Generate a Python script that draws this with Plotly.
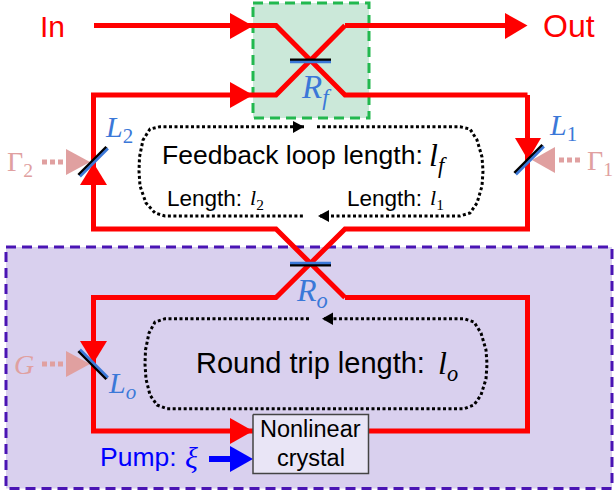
import plotly.graph_objects as go

RED = '#ff0000'
BLUE_M = '#3b78d8'
PINK = '#e0a0a0'

feedback_box_x = [253, 369, 369, 253, 253]
feedback_box_y = [3, 3, 118, 118, 3]
cavity_box_x = [6, 612, 612, 6, 6]
cavity_box_y = [247, 247, 488.5, 488.5, 247]
crystal_box_x = [253, 368.5, 368.5, 253, 253]
crystal_box_y = [414.5, 414.5, 473.5, 473.5, 414.5]

# red beam paths
beams = [
    ([94, 276, 345, 527.5], [25.5, 25.5, 95, 95]),
    ([345, 276, 93.5, 93.5, 276, 345], [25.5, 95, 95, 229, 229, 297.5]),
    ([345, 510], [25.5, 25.5]),
    ([527.5, 527.5, 345, 276, 93.5, 93.5, 253], [95, 229, 229, 297.5, 297.5, 431, 431]),
    ([345, 527.5, 527.5, 369], [297.5, 297.5, 431, 431]),
]

# red arrowheads (x list, y list)
red_heads = [
    ([230, 253, 230], [13, 26, 39]),
    ([230, 253, 230], [82, 95, 108]),
    ([505, 527.5, 505], [13, 25.5, 39]),
    ([515, 541, 528], [138, 138, 160]),
    ([80, 107, 93.5], [185, 185, 163]),
    ([80, 107, 93.5], [341, 341, 363]),
    ([230, 253, 230], [418, 431, 444]),
]
pink_heads = [
    ([66, 90, 66], [149, 162, 175]),
    ([555, 532, 555], [147, 160, 173]),
    ([66, 90, 66], [351, 364, 377]),
]
pink_dashes = [
    ([42, 63], [162, 162]),
    ([559, 580], [160, 160]),
    ([42, 63], [364, 364]),
]
pump_x = [209, 232]
pump_y = [459, 459]
pump_head_x = [230, 253, 230]
pump_head_y = [446, 459, 472]

# mirrors: (black line, blue line)
mirrors = [
    (([290, 331], [60, 60]), ([290, 331], [62, 62])),
    (([290, 331], [265, 265]), ([290, 331], [263, 263])),
    (([78.5, 106.5], [175, 147]), ([80, 108], [176.5, 148.5])),
    (([514.5, 542.5], [173, 145]), ([516, 544], [174.5, 146.5])),
    (([78.5, 106.5], [351, 379]), ([80, 108], [349.5, 377.5])),
]

# dotted length loops
loop_f_left_x = [304, 160, 150, 143, 139.5, 139, 140, 146, 155, 165, 305]
loop_f_left_y = [126.7, 126.7, 129, 140, 157, 171, 186, 203, 213, 216, 216]
loop_f_right_x = [320, 460, 470, 477, 482, 483, 482, 477, 470, 460, 317]
loop_f_right_y = [216, 216, 213, 203, 186, 171, 157, 140, 129, 126.7, 126.7]
loop_o_left_x = [309, 165, 155, 149, 145.5, 145, 146, 150, 157, 167, 300]
loop_o_left_y = [318.7, 318.7, 322, 333, 350, 364, 379, 395, 405, 408.7, 408.7]
loop_o_right_x = [300, 464, 474, 481, 486, 487, 486, 481, 474, 464, 324]
loop_o_right_y = [408.7, 408.7, 405, 395, 379, 364, 350, 333, 322, 318.7, 318.7]

black_heads = [
    ([293, 304, 293], [121, 126.7, 133]),
    ([329, 318, 329], [210, 216, 222]),
    ([333, 322, 333], [312.5, 318.7, 325]),
]

sans_labels = [
    ('In', 52, 26, RED, 30),
    ('Out', 569, 26, RED, 32),
    ('Feedback loop length:', 292, 155, 'black', 26.5),
    ('Length:', 204, 198, 'black', 22.5),
    ('Length:', 384, 198, 'black', 22.5),
    ('Round trip length:', 310, 363, 'black', 29),
    ('Nonlinear', 310.5, 429, 'black', 23.5),
    ('crystal', 310.5, 458, 'black', 23.5),
    ('Pump:', 138, 457, 'blue', 26.5),
]
math_labels = [
    ('<i>R<sub>f</sub></i>', 316, 89, BLUE_M, 33),
    ('<i>R<sub>o</sub></i>', 312, 292, BLUE_M, 32),
    ('<i>L</i><sub>2</sub>', 119, 129, BLUE_M, 30),
    ('<i>L</i><sub>1</sub>', 563, 127, BLUE_M, 30),
    ('<i>L<sub>o</sub></i>', 122, 385, BLUE_M, 30),
    ('Γ<sub>2</sub>', 20, 163, PINK, 28),
    ('Γ<sub>1</sub>', 600, 162, PINK, 28),
    ('<i>G</i>', 24, 364, PINK, 28),
    ('<i>l<sub>f</sub></i>', 438, 157, 'black', 32),
    ('<i>l</i><sub>2</sub>', 257, 199, 'black', 22),
    ('<i>l</i><sub>1</sub>', 437, 199, 'black', 22),
    ('<i>l<sub>o</sub></i>', 448, 365, 'black', 32),
    ('<i>ξ</i>', 191, 457, 'blue', 30),
]

fig = go.Figure()


def add_line(x, y, color, width, dash=None):
    fig.add_trace(go.Scatter(x=x, y=y, mode='lines', hoverinfo='skip',
                             line=dict(color=color, width=width, dash=dash)))


def add_poly(x, y, fill, border=None, width=0, dash=None):
    fig.add_trace(go.Scatter(x=x, y=y, mode='lines', fill='toself', fillcolor=fill, hoverinfo='skip',
                             line=dict(color=border or fill, width=width, dash=dash)))


def add_label(text, x, y, color, size, family):
    fig.add_annotation(x=x, y=y, text=text, showarrow=False, xanchor='center', yanchor='middle',
                       font=dict(color=color, size=size, family=family))


add_poly(cavity_box_x, cavity_box_y, '#d9d0ee', '#4a14b4', 3, '10px,6px')
add_poly(feedback_box_x, feedback_box_y, '#cbe8d9', '#22b84f', 3, '10px,6px')

for x, y in beams:
    add_line(x, y, RED, 5)
for x, y in pink_dashes:
    add_line(x, y, PINK, 5, '5px,3px')
add_line(pump_x, pump_y, 'blue', 6)

for x, y in [(loop_f_left_x, loop_f_left_y), (loop_f_right_x, loop_f_right_y),
             (loop_o_left_x, loop_o_left_y), (loop_o_right_x, loop_o_right_y)]:
    add_line(x, y, 'black', 3, '3px,2.5px')
for x, y in black_heads:
    add_poly(x, y, 'black')

for x, y in pink_heads:
    add_poly(x, y, PINK)
for x, y in red_heads:
    add_poly(x, y, RED)
for black, blue in mirrors:
    add_line(black[0], black[1], 'black', 3)
    add_line(blue[0], blue[1], BLUE_M, 2.5)
add_poly(pump_head_x, pump_head_y, 'blue')
add_poly(crystal_box_x, crystal_box_y, '#e9e5f6', '#444444', 1.5)

for text, x, y, color, size in sans_labels:
    add_label(text, x, y, color, size, 'Liberation Sans')
for text, x, y, color, size in math_labels:
    add_label(text, x, y, color, size, 'Liberation Serif')

fig.update_layout(
    width=614, height=494, margin=dict(l=0, r=0, t=0, b=0),
    paper_bgcolor='white', plot_bgcolor='white', showlegend=False,
    xaxis=dict(range=[0, 614], visible=False, fixedrange=True),
    yaxis=dict(range=[494, 0], visible=False, fixedrange=True),
)
# square corners on the beams, and no page margin
fig.write_html("out.html", config=dict(displayModeBar=False),
               post_script="document.body.style.margin='0';document.documentElement.style.overflow='hidden';"
                           "document.querySelectorAll('.js-line').forEach(function(p){p.style.strokeLinejoin='miter';});")
